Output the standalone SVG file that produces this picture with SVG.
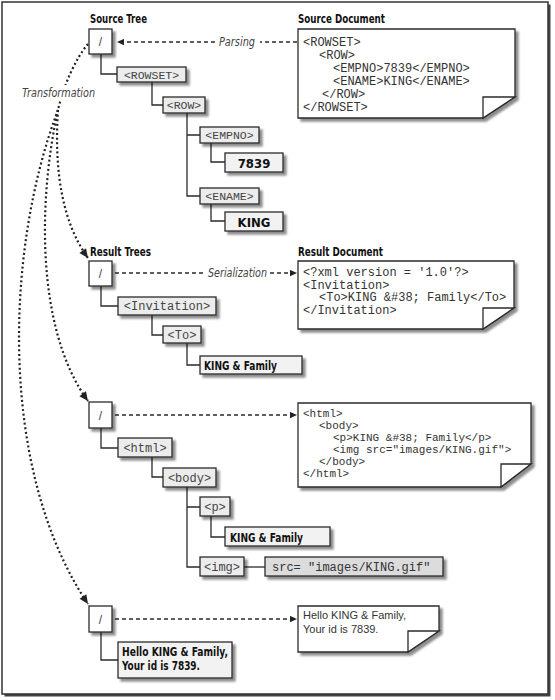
<svg xmlns="http://www.w3.org/2000/svg" width="555" height="700" viewBox="0 0 555 700">
<defs>
<style>
.frame{fill:#fff;stroke:#333;stroke-width:1.5}
.box{fill:#ececec;stroke:#2a2a2a;stroke-width:1.3;filter:url(#sh)}
.root{fill:#fff;stroke:#2a2a2a;stroke-width:1.3;filter:url(#sh)}
.val{fill:#f2f2f2;stroke:#2a2a2a;stroke-width:1.3;filter:url(#sh)}
.src{fill:#dcdcdc;stroke:#2a2a2a;stroke-width:1.3;filter:url(#sh)}
.doc{fill:#fff;stroke:#2a2a2a;stroke-width:1.3;filter:url(#sh)}
.fold{fill:#fff;stroke:#2a2a2a;stroke-width:1.3}
.tree{fill:none;stroke:#2a2a2a;stroke-width:1.3}
.dash{fill:none;stroke:#2a2a2a;stroke-width:1.5;stroke-dasharray:4 3}
.dot{fill:none;stroke:#222;stroke-width:2.2;stroke-dasharray:2 2.6}
.mono{font-family:"Liberation Mono","Courier New",monospace;font-size:12px;fill:#333}
.mono2{font-family:"Liberation Mono","Courier New",monospace;font-size:11px;fill:#333}
.tag{font-family:"Liberation Mono","Courier New",monospace;font-size:12px;fill:#444;text-anchor:middle}
.stag{font-family:"Liberation Mono","Courier New",monospace;font-size:11.5px;fill:#444;text-anchor:middle}
.head{font-family:"Liberation Sans Narrow","DejaVu Sans Condensed","Liberation Sans",Arial,sans-serif;font-size:13px;font-weight:bold;fill:#111}
.bold{font-family:"Liberation Sans Narrow","DejaVu Sans Condensed","Liberation Sans",Arial,sans-serif;font-size:13px;font-weight:bold;fill:#111}
.ital{font-family:"Liberation Sans Narrow","DejaVu Sans Condensed","Liberation Sans",Arial,sans-serif;font-size:12px;font-style:italic;fill:#444}
.plain{font-family:"Liberation Sans",Arial,sans-serif;font-size:11px;fill:#333}
.slash{font-family:"Liberation Sans",Arial,sans-serif;font-size:12px;fill:#444;text-anchor:middle}
</style>
<filter id="sh" x="-20%" y="-20%" width="150%" height="170%">
<feGaussianBlur in="SourceAlpha" stdDeviation="1.1"/>
<feOffset dx="2.5" dy="2.5" result="b"/>
<feFlood flood-color="#000" flood-opacity="0.45"/>
<feComposite in2="b" operator="in"/>
<feMerge><feMergeNode/><feMergeNode in="SourceGraphic"/></feMerge>
</filter>
<marker id="ah" viewBox="0 0 10 10" refX="10" refY="5" markerWidth="9" markerHeight="7" orient="auto" markerUnits="userSpaceOnUse">
<path d="M0,0.5 L10,5 L0,9.5 z" fill="#222"/>
</marker>
<marker id="ah2" viewBox="0 0 10 10" refX="10" refY="5" markerWidth="11" markerHeight="9" orient="auto" markerUnits="userSpaceOnUse">
<path d="M0,0.5 L10,5 L0,9.5 z" fill="#222"/>
</marker>
</defs>

<!-- frame -->
<rect x="4.5" y="4.5" width="546" height="692" fill="#444"/>
<rect class="frame" x="2" y="2" width="546" height="692"/>

<!-- headings -->
<text class="head" x="90" y="23" textLength="57" lengthAdjust="spacingAndGlyphs">Source Tree</text>
<text class="head" x="298" y="23" textLength="87" lengthAdjust="spacingAndGlyphs">Source Document</text>
<text class="head" x="90" y="256" textLength="61" lengthAdjust="spacingAndGlyphs">Result Trees</text>
<text class="head" x="298" y="256" textLength="85" lengthAdjust="spacingAndGlyphs">Result Document</text>

<!-- connectors -->
<g id="connectors">
<path class="tree" d="M101,54 V74 H117"/>
<path class="tree" d="M152,82 V105 H163"/>
<path class="tree" d="M187,113 V196 H200 M187,135 H200"/>
<path class="tree" d="M211,143 V162 H225"/>
<path class="tree" d="M211,204 V221 H225"/>
<path class="tree" d="M101,286 V306 H118"/>
<path class="tree" d="M152,315 V335 H163"/>
<path class="tree" d="M187,343 V365 H200"/>
<path class="tree" d="M101,428 V448 H118"/>
<path class="tree" d="M152,457 V477 H163"/>
<path class="tree" d="M187,487 V567 H200 M187,507 H200"/>
<path class="tree" d="M211,516 V537 H225"/>
<path class="tree" d="M244,567 H265"/>
<path class="tree" d="M101,632 V660 H118"/>

<path class="dash" d="M297,42 H260"/>
<path class="dash" d="M215,42 H117" marker-end="url(#ah)"/>
<text class="ital" x="219" y="46" textLength="36" lengthAdjust="spacingAndGlyphs">Parsing</text>

<path class="dash" d="M115,273 H204"/>
<path class="dash" d="M270,273 H297" marker-end="url(#ah)"/>
<text class="ital" x="208" y="277" textLength="59" lengthAdjust="spacingAndGlyphs">Serialization</text>

<path class="dash" d="M115,415 H297" marker-end="url(#ah)"/>
<path class="dash" d="M115,619 H297" marker-end="url(#ah)"/>

<path class="dot" d="M88,44 C76,58 64,84 58,110"/>
<path class="dot" d="M58,110 C54,170 62,222 88,258" marker-end="url(#ah2)"/>
<path class="dot" d="M58,110 C38,200 36,330 88,401" marker-end="url(#ah2)"/>
<path class="dot" d="M58,110 C5,250 -2,470 88,604" marker-end="url(#ah2)"/>
<rect x="21" y="85" width="77" height="15" fill="#fff"/>
<text class="ital" x="22" y="97" textLength="73" lengthAdjust="spacingAndGlyphs">Transformation</text>
</g>

<!-- source tree -->
<g id="src-root"><rect class="root" x="89" y="29" width="23" height="25"/><text class="slash" x="100.5" y="46">/</text></g>
<g id="src-rowset"><rect class="box" x="117" y="67" width="69" height="15"/><text class="stag" x="151.5" y="78.5">&lt;ROWSET&gt;</text></g>
<g id="src-row"><rect class="box" x="163" y="97" width="42" height="16"/><text class="stag" x="184" y="109">&lt;ROW&gt;</text></g>
<g id="src-empno"><rect class="box" x="200" y="127" width="59" height="16"/><text class="stag" x="229.5" y="139">&lt;EMPNO&gt;</text></g>
<g id="src-7839"><rect class="val" x="225" y="153" width="58" height="19"/><text class="bold" x="254" y="167.5" text-anchor="middle">7839</text></g>
<g id="src-ename"><rect class="box" x="200" y="188" width="59" height="16"/><text class="stag" x="229.5" y="200">&lt;ENAME&gt;</text></g>
<g id="src-king"><rect class="val" x="225" y="212" width="58" height="19"/><text class="bold" x="254" y="226.5" text-anchor="middle">KING</text></g>

<!-- source document -->
<g id="src-doc">
<path class="doc" d="M298,29 H515 V97 L483,118 H298 Z"/>
<path class="fold" d="M515,97 H483 V118 Z"/>
<text class="mono" x="303" y="46">&lt;ROWSET&gt;</text>
<text class="mono" x="319" y="59">&lt;ROW&gt;</text>
<text class="mono" x="333" y="72">&lt;EMPNO&gt;7839&lt;/EMPNO&gt;</text>
<text class="mono" x="333" y="85">&lt;ENAME&gt;KING&lt;/ENAME&gt;</text>
<text class="mono" x="322" y="98">&lt;/ROW&gt;</text>
<text class="mono" x="303" y="111">&lt;/ROWSET&gt;</text>
</g>

<!-- result tree 1 -->
<g id="r1-root"><rect class="root" x="89" y="261" width="23" height="25"/><text class="slash" x="100.5" y="278">/</text></g>
<g id="r1-invitation"><rect class="box" x="118" y="297" width="98" height="18"/><text class="tag" x="167" y="310">&lt;Invitation&gt;</text></g>
<g id="r1-to"><rect class="box" x="163" y="326" width="38" height="17"/><text class="tag" x="182" y="338.5">&lt;To&gt;</text></g>
<g id="r1-text"><rect class="val" x="200" y="356" width="102" height="18"/><text class="bold" x="204" y="370" textLength="73" lengthAdjust="spacingAndGlyphs">KING &amp; Family</text></g>

<g id="r1-doc">
<path class="doc" d="M298,261 H514 V308 L483,329 H298 Z"/>
<path class="fold" d="M514,308 H483 V329 Z"/>
<text class="mono" x="303" y="276">&lt;?xml version = '1.0'?&gt;</text>
<text class="mono" x="303" y="288.7">&lt;Invitation&gt;</text>
<text class="mono" x="319" y="301.3">&lt;To&gt;KING &amp;#38; Family&lt;/To&gt;</text>
<text class="mono" x="303" y="314">&lt;/Invitation&gt;</text>
</g>

<!-- result tree 2 -->
<g id="r2-root"><rect class="root" x="89" y="402" width="23" height="26"/><text class="slash" x="100.5" y="419.5">/</text></g>
<g id="r2-html"><rect class="box" x="118" y="438" width="54" height="19"/><text class="tag" x="145" y="451.5">&lt;html&gt;</text></g>
<g id="r2-body"><rect class="box" x="163" y="468" width="53" height="19"/><text class="tag" x="189.5" y="481.5">&lt;body&gt;</text></g>
<g id="r2-p"><rect class="box" x="200" y="497" width="30" height="19"/><text class="tag" x="215" y="510.5">&lt;p&gt;</text></g>
<g id="r2-text"><rect class="val" x="225" y="527" width="105" height="19"/><text class="bold" x="230" y="541.5" textLength="73" lengthAdjust="spacingAndGlyphs">KING &amp; Family</text></g>
<g id="r2-img"><rect class="box" x="200" y="557" width="44" height="19"/><text class="tag" x="222" y="570.5">&lt;img&gt;</text></g>
<g id="r2-src"><rect class="src" x="265" y="557" width="178" height="19"/><text class="mono" x="272" y="570.5">src= "images/KING.gif"</text></g>

<g id="r2-doc">
<path class="doc" d="M298,403 H531 V464 L501,487 H298 Z"/>
<path class="fold" d="M531,464 H501 V487 Z"/>
<text class="mono2" x="303" y="417">&lt;html&gt;</text>
<text class="mono2" x="319" y="429">&lt;body&gt;</text>
<text class="mono2" x="333" y="441">&lt;p&gt;KING &amp;#38; Family&lt;/p&gt;</text>
<text class="mono2" x="333" y="453">&lt;img src="images/KING.gif"&gt;</text>
<text class="mono2" x="319" y="465">&lt;/body&gt;</text>
<text class="mono2" x="303" y="477">&lt;/html&gt;</text>
</g>

<!-- result tree 3 -->
<g id="r3-root"><rect class="root" x="89" y="606" width="23" height="26"/><text class="slash" x="100.5" y="623.5">/</text></g>
<g id="r3-text"><rect class="val" x="118" y="642" width="114" height="36"/>
<text class="bold" x="122" y="656" textLength="106" lengthAdjust="spacingAndGlyphs">Hello KING &amp; Family,</text>
<text class="bold" x="122" y="670" textLength="78" lengthAdjust="spacingAndGlyphs">Your id is 7839.</text></g>

<g id="r3-doc">
<path class="doc" d="M298,606 H439 V631 L408,652 H298 Z"/>
<path class="fold" d="M439,631 H408 V652 Z"/>
<text class="plain" x="303" y="619">Hello KING &amp; Family,</text>
<text class="plain" x="303" y="633">Your id is 7839.</text>
</g>
</svg>
